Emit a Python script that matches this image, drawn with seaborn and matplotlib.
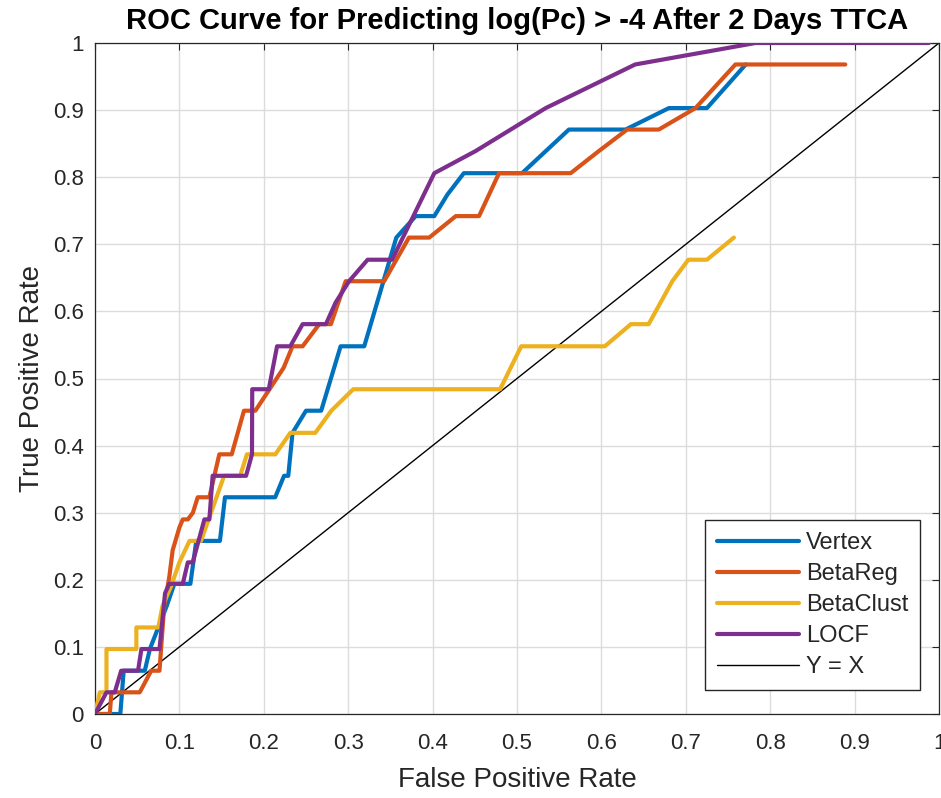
import numpy as np
import pandas as pd
import matplotlib
matplotlib.use("Agg")
import matplotlib.pyplot as plt
import seaborn as sns

# ---- data ----
vertex_fpr = [0, 0.030, 0.034, 0.059, 0.065, 0.075, 0.085, 0.094, 0.113, 0.120, 0.148, 0.154,
              0.2135, 0.224, 0.229, 0.234, 0.250, 0.268, 0.291, 0.319, 0.357, 0.380, 0.402,
              0.4175, 0.437, 0.506, 0.5615, 0.6286, 0.680, 0.725, 0.771]
vertex_tpr = [0, 0, 0.0645, 0.0645, 0.0968, 0.129, 0.161, 0.194, 0.194, 0.258, 0.258, 0.323,
              0.323, 0.355, 0.355, 0.419, 0.452, 0.452, 0.548, 0.548, 0.710, 0.742, 0.742,
              0.774, 0.806, 0.806, 0.871, 0.871, 0.903, 0.903, 0.968]

betareg_fpr = [0, 0.0175, 0.0195, 0.053, 0.0666, 0.0764, 0.082, 0.088, 0.092, 0.100, 0.104, 0.110,
               0.116, 0.1217, 0.1355, 0.1473, 0.162, 0.1765, 0.190, 0.2235, 0.234, 0.246, 0.2657,
               0.2795, 0.297, 0.3426, 0.372, 0.396, 0.4275, 0.455, 0.4787, 0.5636, 0.597, 0.6305,
               0.668, 0.7115, 0.7588, 0.889]
betareg_tpr = [0, 0, 0.0323, 0.0323, 0.0645, 0.0645, 0.161, 0.204, 0.244, 0.278, 0.290, 0.290,
               0.300, 0.323, 0.323, 0.387, 0.387, 0.452, 0.452, 0.516, 0.548, 0.548, 0.581,
               0.581, 0.645, 0.645, 0.710, 0.710, 0.742, 0.742, 0.806, 0.806, 0.839, 0.871,
               0.871, 0.903, 0.968, 0.968]

betaclust_fpr = [0, 0.0057, 0.0136, 0.0136, 0.049, 0.049, 0.075, 0.080, 0.090, 0.100, 0.112, 0.1256,
                 0.153, 0.172, 0.180, 0.2137, 0.2314, 0.261, 0.280, 0.306, 0.480, 0.505, 0.604,
                 0.635, 0.656, 0.684, 0.703, 0.725, 0.757]
betaclust_tpr = [0, 0.0323, 0.0323, 0.0968, 0.0968, 0.129, 0.129, 0.161, 0.190, 0.226, 0.258, 0.258,
                 0.355, 0.355, 0.387, 0.387, 0.419, 0.419, 0.452, 0.484, 0.484, 0.548, 0.548,
                 0.581, 0.581, 0.645, 0.677, 0.677, 0.710]

locf_fpr = [0, 0.0136, 0.0234, 0.031, 0.051, 0.055, 0.0764, 0.083, 0.088, 0.104, 0.110, 0.1158,
            0.1296, 0.1355, 0.1394, 0.179, 0.186, 0.1863, 0.2059, 0.2157, 0.2314, 0.246, 0.2736,
            0.285, 0.301, 0.323, 0.352, 0.402, 0.451, 0.534, 0.640, 0.7825, 0.988]
locf_tpr = [0, 0.0323, 0.0323, 0.0645, 0.0645, 0.0968, 0.0968, 0.180, 0.194, 0.194, 0.226, 0.226,
            0.290, 0.290, 0.355, 0.355, 0.387, 0.484, 0.484, 0.548, 0.548, 0.581, 0.581,
            0.613, 0.645, 0.677, 0.677, 0.806, 0.839, 0.903, 0.968, 1.0, 1.0]

diag_x = [0, 1]
diag_y = [0, 1]

series_names = ["Vertex", "BetaReg", "BetaClust", "LOCF"]
series_colors = ["#0072BD", "#D95319", "#EDB120", "#7E2F8E"]
tick_vals = [0, 0.1, 0.2, 0.3, 0.4, 0.5, 0.6, 0.7, 0.8, 0.9, 1]
tick_labels = ["0", "0.1", "0.2", "0.3", "0.4", "0.5", "0.6", "0.7", "0.8", "0.9", "1"]

# ---- build table ----
frames = []
for name, fx, fy in zip(series_names,
                        [vertex_fpr, betareg_fpr, betaclust_fpr, locf_fpr],
                        [vertex_tpr, betareg_tpr, betaclust_tpr, locf_tpr]):
    frames.append(pd.DataFrame({"fpr": fx, "tpr": fy, "model": name}))
df = pd.concat(frames, ignore_index=True)
diag = pd.DataFrame({"fpr": diag_x, "tpr": diag_y})

sns.set_theme(style="white")
plt.rcParams["font.family"] = ["Liberation Sans", "DejaVu Sans"]

fig = plt.figure(figsize=(9.41, 7.98), dpi=100)
ax = fig.add_axes([95 / 941, 1 - 714 / 798, 844 / 941, 671 / 798])

for name, col in zip(series_names, series_colors):
    sub = df[df["model"] == name]
    sns.lineplot(data=sub, x="fpr", y="tpr", ax=ax, color=col, linewidth=3.0,
                 sort=False, estimator=None, label=name, zorder=3)
sns.lineplot(data=diag, x="fpr", y="tpr", ax=ax, color="black", linewidth=1.0,
             sort=False, estimator=None, label="Y = X", zorder=2)

ax.set_xlim(0, 1)
ax.set_ylim(0, 1)
ax.set_xticks(tick_vals)
ax.set_xticklabels(tick_labels)
ax.set_yticks(tick_vals)
ax.set_yticklabels(tick_labels)
ax.grid(True, color="#dcdcdc", linewidth=1.0)
ax.set_axisbelow(True)
ax.tick_params(axis="both", which="both", direction="in", length=5, width=0.8,
               colors="#262626", labelsize=16, top=True, right=True)
ax.tick_params(axis="x", pad=14)
ax.tick_params(axis="y", pad=8)
for sp in ax.spines.values():
    sp.set_visible(True)
    sp.set_color("#262626")
    sp.set_linewidth(0.9)

ax.set_xlabel("False Positive Rate", fontsize=20, color="#262626", labelpad=9)
ax.set_ylabel("True Positive Rate", fontsize=20, color="#262626", labelpad=6)
ax.set_title("ROC Curve for Predicting log(Pc) > -4 After 2 Days TTCA",
             fontsize=21, fontweight="bold", color="black", pad=10)

leg = ax.legend(loc="lower right", bbox_to_anchor=(0.9775, 0.036), borderaxespad=0,
                frameon=True, fancybox=False, fontsize=17, handlelength=3.5,
                handletextpad=0.27, labelspacing=0.38, borderpad=0.5)
leg.get_frame().set_edgecolor("#262626")
leg.get_frame().set_linewidth(1.0)
leg.get_frame().set_alpha(1.0)

fig.savefig("out.png", dpi=100)
